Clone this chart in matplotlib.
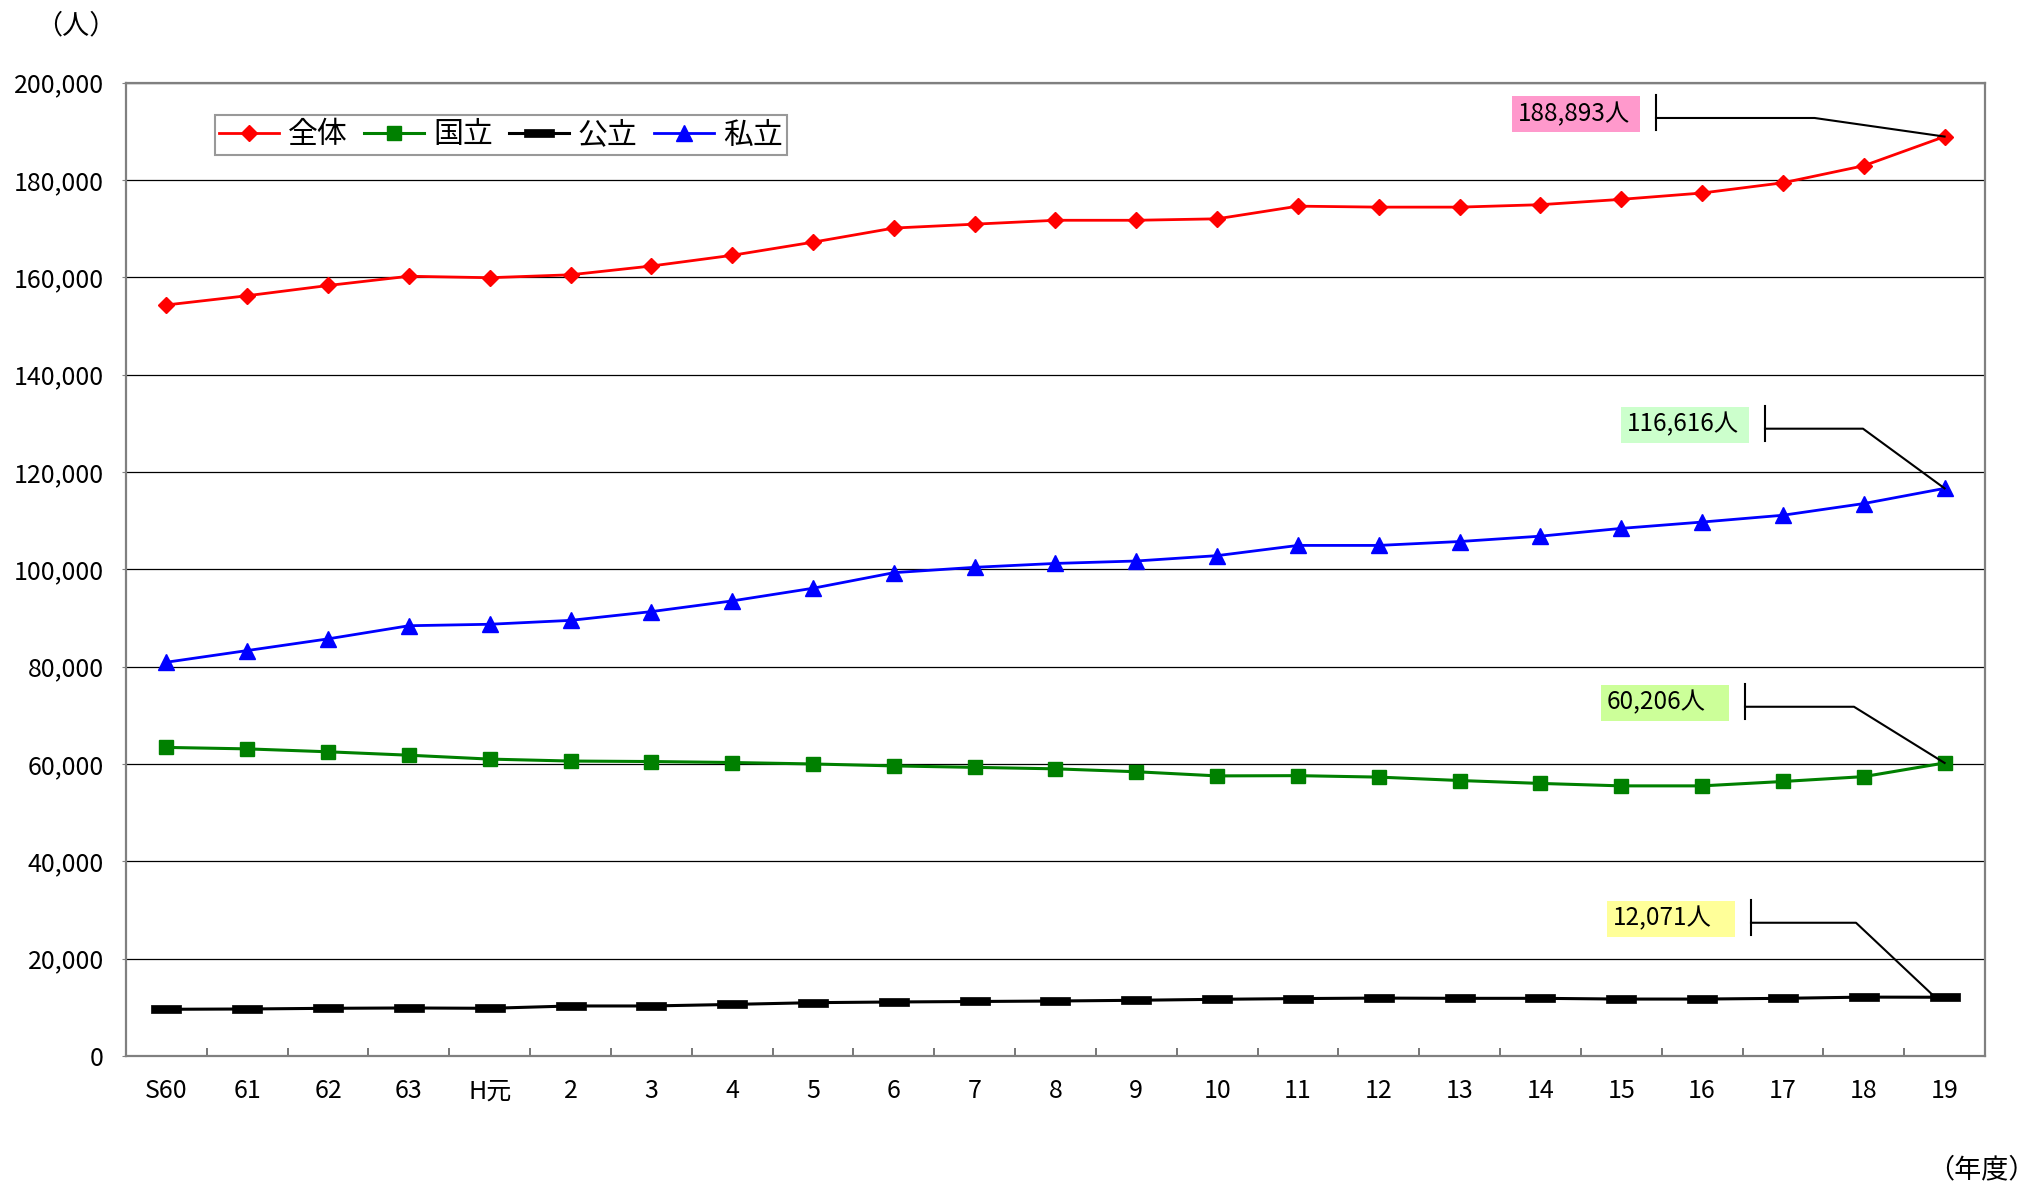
import numpy as np
import matplotlib
matplotlib.use('Agg')
import matplotlib.pyplot as plt
from matplotlib.lines import Line2D
from matplotlib.patches import Rectangle
from matplotlib.path import Path
from matplotlib.transforms import IdentityTransform

plt.rcParams['font.family'] = ['Noto Sans CJK JP', 'DejaVu Sans']

# 年度
years = ['S60', '61', '62', '63', 'H元', '2', '3', '4', '5', '6', '7', '8', '9',
         '10', '11', '12', '13', '14', '15', '16', '17', '18', '19']

# 在学者数（人）
total = [154300, 156200, 158300, 160200, 159900, 160500, 162300, 164500, 167200,
         170100, 170900, 171700, 171700, 172000, 174600, 174400, 174400, 174900,
         176000, 177300, 179400, 182900, 188893]
national = [63400, 63100, 62500, 61800, 61000, 60600, 60500, 60300, 60000, 59600,
            59300, 59000, 58400, 57550, 57600, 57300, 56600, 56000, 55500, 55500,
            56400, 57400, 60206]
public = [9600, 9660, 9800, 9870, 9800, 10280, 10280, 10600, 10960, 11100, 11200,
          11300, 11450, 11650, 11800, 11900, 11850, 11850, 11700, 11700, 11850,
          12100, 12071]
private = [80900, 83300, 85700, 88400, 88700, 89500, 91300, 93500, 96100, 99300,
           100400, 101200, 101700, 102800, 104900, 104900, 105700, 106800, 108400,
           109700, 111100, 113500, 116616]

series_labels = ['全体', '国立', '公立', '私立']
y_ticks = [0, 20000, 40000, 60000, 80000, 100000, 120000, 140000, 160000, 180000, 200000]

DPI = 100
fig = plt.figure(figsize=(20.38, 11.84), dpi=DPI)
ax = fig.add_axes([0.0618, 0.1081, 0.9122, 0.8222])

x = np.arange(len(years))

# flat bar marker for 公立
bar_marker = Path([(-2, -0.5), (2, -0.5), (2, 0.5), (-2, 0.5), (-2, -0.5)],
                  [Path.MOVETO, Path.LINETO, Path.LINETO, Path.LINETO, Path.CLOSEPOLY])

l_total, = ax.plot(x, total, color='#FF0000', lw=2.0, marker='D', ms=8.3,
                   mec='#FF0000', mfc='#FF0000', label=series_labels[0], zorder=4)
l_nat, = ax.plot(x, national, color='#008000', lw=2.2, marker='s', ms=10.5,
                 mec='#008000', mfc='#008000', label=series_labels[1], zorder=4)
l_pub, = ax.plot(x, public, color='#000000', lw=2.2, marker=bar_marker, ms=22,
                 mec='#000000', mfc='#000000', mew=0.5, label=series_labels[2], zorder=4)
l_priv, = ax.plot(x, private, color='#0000FF', lw=2.0, marker='^', ms=11,
                  mec='#0000FF', mfc='#0000FF', label=series_labels[3], zorder=4)

ax.set_xlim(-0.5, len(years) - 0.5)
ax.set_ylim(0, 200000)

# axes styling
for side in ['left', 'right', 'top', 'bottom']:
    ax.spines[side].set_color('#808080')
    ax.spines[side].set_linewidth(1.6)
    ax.spines[side].set_zorder(5)

ax.set_yticks(y_ticks)
ax.set_yticklabels([f'{v:,}' for v in y_ticks], fontsize=18)
ax.yaxis.grid(True, color='black', lw=0.9)
ax.set_axisbelow(True)
ax.tick_params(axis='y', length=3, color='#808080', pad=13)

ax.set_xticks(x)
ax.set_xticklabels(years, fontsize=18)
ax.tick_params(axis='x', which='major', length=0, pad=16)
ax.set_xticks(np.arange(0.5, len(years) - 1, 1), minor=True)
ax.tick_params(axis='x', which='minor', direction='in', length=6, width=1.2,
               color='#606060')

# legend
leg = fig.legend(handles=[l_total, l_nat, l_pub, l_priv], loc='upper left',
                 bbox_to_anchor=(215 / 2038, 1 - 115 / 1184), ncol=4,
                 fontsize=21.5, frameon=True, fancybox=False, handlelength=2.0,
                 handletextpad=0.3, columnspacing=0.55, borderpad=0.15,
                 borderaxespad=0)
leg.get_frame().set_edgecolor('#808080')
leg.get_frame().set_linewidth(1.5)

# unit labels
fig.text(35 / 2038, 1 - 26 / 1184, '（人）', fontsize=19.5, ha='left', va='center')
fig.text(2036 / 2038, 1 - 1170 / 1184, '（年度）', fontsize=19.5, ha='right', va='center')

# callouts on the last year: (value, text, box colour, elbow dx, line dy, bar dx, end dx, end dy)
fig.canvas.draw()
callouts = [
    (total[-1], f'{total[-1]:,}人', '#FF99CC', -130, 18.6, -288.6, 0, 0),
    (private[-1], f'{private[-1]:,}人', '#CCFFCC', -81.6, 59.7, -179.6, 0, 0),
    (national[-1], f'{national[-1]:,}人', '#CCFF99', -90.6, 56.2, -199.6, 0, 0),
    (public[-1], f'{public[-1]:,}人', '#FFFF99', -88.6, 74.5, -193.6, -11.6, 2),
]
ident = IdentityTransform()
for val, txt, col, ex, ly, bx, enx, eny in callouts:
    px, py = ax.transData.transform((x[-1], val))
    fig.add_artist(Line2D([px + bx, px + ex, px + enx], [py + ly, py + ly, py + eny],
                          color='black', lw=1.5, transform=ident, zorder=6))
    fig.add_artist(Line2D([px + bx, px + bx], [py + ly - 12, py + ly + 23],
                          color='black', lw=1.5, transform=ident, zorder=6))
    box_w, box_h = 128, 36
    box_right = px + bx - 16
    box_cy = py + ly + 4
    fig.add_artist(Rectangle((box_right - box_w, box_cy - box_h / 2), box_w, box_h,
                             facecolor=col, edgecolor='none', transform=ident, zorder=6))
    fig.text(box_right - box_w + 6, box_cy, txt, fontsize=17.5, ha='left',
             va='center', transform=ident, zorder=7)

fig.savefig('out.png', dpi=DPI)
